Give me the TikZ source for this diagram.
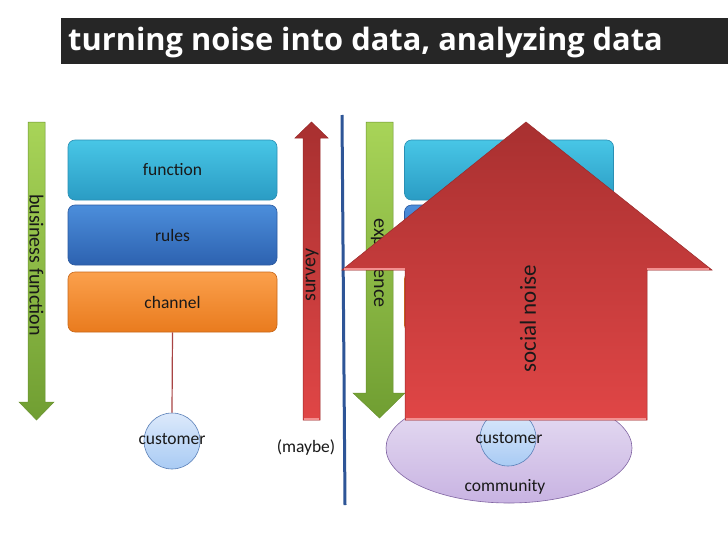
\documentclass[tikz,border=0pt]{standalone}
\usepackage{fontspec}
\usepackage{graphicx}
\setmainfont{Carlito}
\newfontfamily\titlefont{Open Sans}
\usetikzlibrary{shapes.geometric}
\definecolor{cyanT}{HTML}{48C6E6}
\definecolor{cyanB}{HTML}{2A9CC4}
\definecolor{cyanD}{HTML}{2A8FB4}
\definecolor{blueT}{HTML}{4C8EDB}
\definecolor{blueB}{HTML}{2D62B0}
\definecolor{blueD}{HTML}{2C5AA0}
\definecolor{oraT}{HTML}{FBA04C}
\definecolor{oraB}{HTML}{E97B1E}
\definecolor{oraD}{HTML}{C8681A}
\definecolor{grnT}{HTML}{A8D458}
\definecolor{grnB}{HTML}{709E32}
\definecolor{grnD}{HTML}{6A9230}
\definecolor{redT}{HTML}{A83030}
\definecolor{redB}{HTML}{E04646}
\definecolor{redD}{HTML}{9A2A2A}
\definecolor{redHi}{HTML}{F29090}
\definecolor{cirT}{HTML}{DCE9FB}
\definecolor{cirB}{HTML}{A9CBF4}
\definecolor{cirD}{HTML}{5A80B8}
\definecolor{ellT}{HTML}{E9E1F4}
\definecolor{ellB}{HTML}{C8B3E2}
\definecolor{ellD}{HTML}{8064A2}
\definecolor{sepblue}{HTML}{2E5597}
\definecolor{titlebg}{HTML}{262626}
\definecolor{linkred}{HTML}{A84444}
\tikzset{
  lbl/.style={font=\fontsize{17.5}{20}\selectfont, text=black!90, inner sep=0pt},
  biglbl/.style={font=\fontsize{20}{22}\selectfont, text=black!90, inner sep=0pt},
  box/.style={rounded corners=7pt, minimum width=209pt, minimum height=60pt, inner sep=0pt, line width=0.6pt,
    font=\fontsize{17.5}{20}\selectfont, text=black!90},
  funbox/.style={box, top color=cyanT, bottom color=cyanB, draw=cyanD},
  rulebox/.style={box, top color=blueT, bottom color=blueB, draw=blueD},
  chanbox/.style={box, top color=oraT, bottom color=oraB, draw=oraD},
  custcirc/.style={circle, minimum size=56pt, inner sep=0pt, top color=cirT, bottom color=cirB, draw=cirD, line width=0.6pt},
  commell/.style={ellipse, minimum width=246pt, minimum height=110pt, inner sep=0pt, top color=ellT, bottom color=ellB, draw=ellD, line width=0.6pt},
  grnarrow/.style={top color=grnT, bottom color=grnB, draw=grnD, line width=0.5pt},
  redarrow/.style={top color=redT, bottom color=redB, draw=redD, line width=0.5pt},
  hiline/.style={redHi, line width=1.5pt},
}
\begin{document}
\begin{tikzpicture}[x=1pt, y=-1pt]
\useasboundingbox (0,0) rectangle (728,546);
\fill[white] (0,0) rectangle (728,546);
% title
\fill[titlebg] (61,18) rectangle (728,64);
\node[anchor=west, inner sep=0pt, text=white] (title) at (68,42)
  {\titlefont\bfseries\fontsize{30.8}{34}\selectfont turning noise into data, analyzing data};
% left green arrow
\path[grnarrow] (28,122) -- (45,122) -- (45,402) -- (54,402) -- (36.5,420) -- (19,402) -- (28,402) -- cycle;
\node[biglbl, rotate=-90] (bf) at (36.5,265) {business function};
% left boxes
\node[funbox] (f1) at (172.5,170) {function};
\node[rulebox] (r1) at (172.5,235) {rules};
\node[chanbox] (ch1) at (172.5,302) {channel};
\node[custcirc] (c1) at (172,441) {};
\node[lbl] (c1t) at (172,439) {customer};
\draw[linkred, line width=1.2pt] (ch1.south) -- (c1.north);
% survey arrow
\path[redarrow] (303,420) -- (303,138) -- (295,138) -- (311.5,122) -- (328,138) -- (320,138) -- (320,420) -- cycle;
\draw[hiline] (303.8,419.2) -- (319.2,419.2);
\node[biglbl, rotate=90] (sv) at (312,275) {survey};
\node[lbl] (maybe) at (306,448) {(maybe)};
% separator line
\coordinate (sepT) at (342,115);
\coordinate (sepB) at (345,505);
\draw[sepblue, line width=3pt] (sepT) -- (sepB);
% experience arrow
\path[grnarrow] (366,122) -- (393,122) -- (393,393) -- (405,393) -- (379.5,418) -- (353,393) -- (366,393) -- cycle;
\node[biglbl, rotate=-90] (exp) at (379.5,263) {experience};
% right boxes
\node[funbox] (f2) at (509,170) {};
\node[rulebox] (r2) at (509,235) {};
\node[chanbox] (ch2) at (509,302) {};
% community
\node[commell] (comm) at (509,448) {};
\node[lbl] (commt) at (505,487) {community};
\node[custcirc] (c2) at (508,438) {};
\node[lbl] (c2t) at (509,438) {customer};
% social noise arrow
\path[redarrow] (405,420) -- (405,270) -- (342,270) -- (526,122) -- (712,270) -- (647,270) -- (647,420) -- cycle;
\draw[hiline] (344,269.2) -- (405,269.2);
\draw[hiline] (647,269.2) -- (709,269.2);
\draw[hiline] (405.8,419.2) -- (646.2,419.2);
\node[font=\fontsize{23}{26}\selectfont, text=black!90, inner sep=0pt, rotate=90] (sn) at (528,319) {social noise};
\end{tikzpicture}
\end{document}
